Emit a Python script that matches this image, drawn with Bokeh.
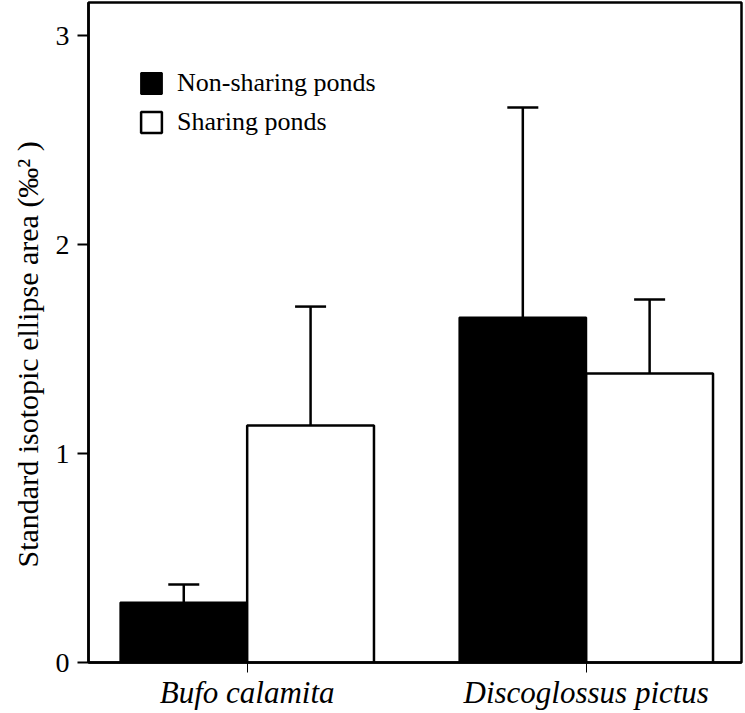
from bokeh.plotting import figure
from bokeh.models import (ColumnDataSource, Range1d, FixedTicker, Whisker, TeeHead,
                          Legend, LegendItem, Title)
from bokeh.embed import file_html
from bokeh.resources import INLINE

# ---- data ----
species = ["Bufo calamita", "Discoglossus pictus"]
groups = ["Non-sharing ponds", "Sharing ponds"]
non_sharing_mean = [0.287, 1.651]
non_sharing_upper = [0.373, 2.656]
sharing_mean = [1.134, 1.383]
sharing_upper = [1.703, 1.737]
y_ticks = [0, 1, 2, 3]
y_label = "Standard isotopic ellipse area (\u2030\u00b2 )"

FONT = "Liberation Serif"
bar_w = 0.374
pos = [i + 1 for i in range(len(species))]

src_ns = ColumnDataSource(dict(x=[p - bar_w / 2 for p in pos], top=non_sharing_mean,
                               upper=non_sharing_upper))
src_s = ColumnDataSource(dict(x=[p + bar_w / 2 for p in pos], top=sharing_mean,
                              upper=sharing_upper))

p = figure(width=745, height=713, output_backend="svg", toolbar_location=None,
           x_range=Range1d(0.532, 2.458), y_range=Range1d(0, 3.158),
           min_border_left=88, min_border_right=4, min_border_top=2, min_border_bottom=51)
p.background_fill_color = "white"
p.border_fill_color = "white"
p.outline_line_color = "black"
p.outline_line_width = 2.5
p.xgrid.visible = False
p.ygrid.visible = False

r_ns = p.vbar(x="x", top="top", bottom=0, width=bar_w, source=src_ns,
              fill_color="black", line_color="black", line_width=2)
r_s = p.vbar(x="x", top="top", bottom=0, width=bar_w, source=src_s,
             fill_color="white", line_color="black", line_width=2.5)

for src in (src_ns, src_s):
    w = Whisker(base="x", lower="top", upper="upper", source=src,
                line_color="black", line_width=2.5, lower_head=None,
                upper_head=TeeHead(size=31, line_color="black", line_width=2.5))
    p.add_layout(w)

# axes
p.yaxis.ticker = FixedTicker(ticks=y_ticks)
p.yaxis.minor_tick_line_color = None
p.yaxis.major_tick_out = 11
p.yaxis.major_tick_in = 0
p.yaxis.major_tick_line_width = 2
p.yaxis.axis_line_width = 2.5
p.yaxis.major_label_text_font = FONT
p.yaxis.major_label_text_font_size = "28px"
p.yaxis.major_label_text_color = "black"
p.yaxis.major_label_standoff = 8

ytitle = Title(text=y_label, align="left", offset=95, standoff=17,
               text_font=FONT, text_font_size="30px", text_font_style="normal",
               text_color="black")
p.add_layout(ytitle, "left")

p.xaxis.ticker = FixedTicker(ticks=pos)
p.xaxis.major_label_overrides = {pp: s for pp, s in zip(pos, species)}
p.xaxis.minor_tick_line_color = None
p.xaxis.major_tick_out = 10
p.xaxis.major_tick_in = 0
p.xaxis.major_tick_line_width = 1
p.xaxis.axis_line_width = 2.5
p.xaxis.major_label_text_font = FONT
p.xaxis.major_label_text_font_size = "31px"
p.xaxis.major_label_text_font_style = "italic"
p.xaxis.major_label_text_color = "black"
p.xaxis.major_label_standoff = 2

legend = Legend(items=[LegendItem(label=groups[0], renderers=[r_ns]),
                       LegendItem(label=groups[1], renderers=[r_s])],
                location=(50, 525), glyph_width=26, glyph_height=26, label_height=26,
                spacing=9, label_standoff=13, padding=0, margin=0,
                border_line_alpha=0, background_fill_alpha=0,
                label_text_font=FONT, label_text_font_size="26px", label_text_color="black")
p.add_layout(legend)

open("out.html", "w").write(file_html(p, INLINE))
